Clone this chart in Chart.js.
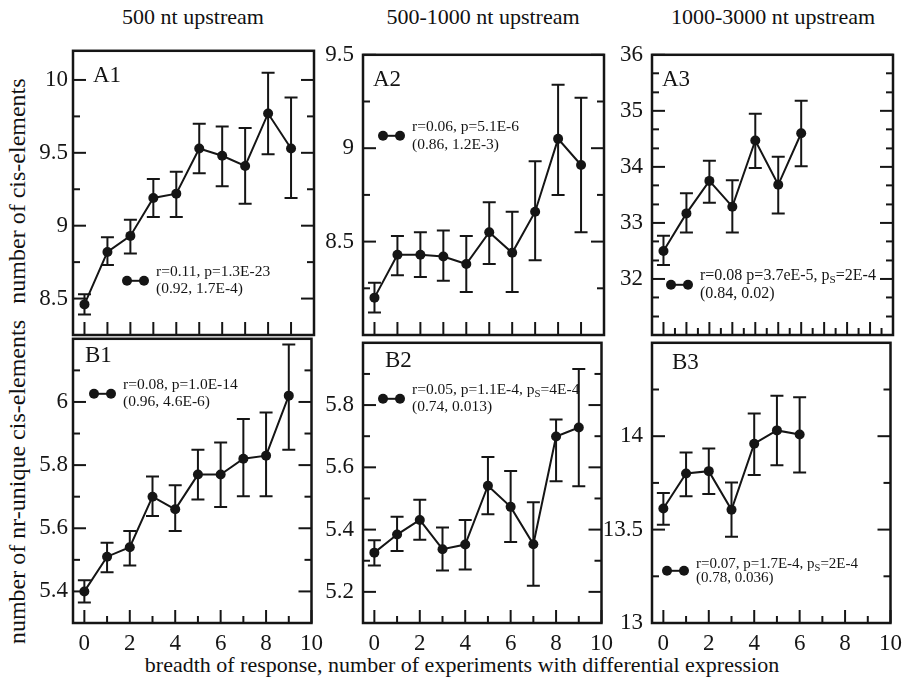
<!DOCTYPE html>
<html>
<head>
<meta charset="utf-8">
<script src="https://cdn.jsdelivr.net/npm/chart.js@4.4.0/dist/chart.umd.min.js"></script>
<style>
  body { margin: 0; background: #fff; }
  #wrap { position: relative; width: 904px; height: 694px; overflow: hidden;
          font-family: "Liberation Serif", "DejaVu Serif", serif; color: #111; }
  canvas { position: absolute; }
  .lbl { position: absolute; white-space: nowrap; font-family: "Liberation Serif", serif;
         font-size: 22px; transform: translate(-50%, -50%); }
  .rot { font-size: 24px; transform: translate(-50%, -50%) rotate(-90deg); }
</style>
</head>
<body>
<div id="wrap">
  <div class="lbl" style="left:193px; top:17px">500 nt upstream</div>
  <div class="lbl" style="left:483px; top:17px">500-1000 nt upstream</div>
  <div class="lbl" style="left:773px; top:17px">1000-3000 nt upstream</div>
  <div class="lbl rot" style="left:17px; top:191px">number of cis-elements</div>
  <div class="lbl rot" style="left:17px; top:482px">number of nr-unique cis-elements</div>
  <div class="lbl" style="left:462px; top:665px">breadth of response, number of experiments with differential expression</div>
</div>
<script>
// x categories (number of experiments)
const xs10 = [0, 1, 2, 3, 4, 5, 6, 7, 8, 9];
const xs7 = [0, 1, 2, 3, 4, 5, 6];

// A: number of cis-elements
const a1Mean = [8.46, 8.82, 8.93, 9.19, 9.22, 9.53, 9.48, 9.41, 9.77, 9.53];
const a1Hi   = [8.53, 8.92, 9.04, 9.32, 9.37, 9.70, 9.68, 9.67, 10.05, 9.88];
const a1Lo   = [8.39, 8.73, 8.81, 9.06, 9.06, 9.36, 9.27, 9.15, 9.49, 9.19];

const a2Mean = [8.20, 8.43, 8.43, 8.42, 8.38, 8.55, 8.44, 8.66, 9.05, 8.91];
const a2Hi   = [8.28, 8.53, 8.55, 8.56, 8.53, 8.71, 8.66, 8.93, 9.34, 9.27];
const a2Lo   = [8.12, 8.32, 8.31, 8.29, 8.23, 8.38, 8.23, 8.40, 8.75, 8.55];

const a3Mean = [32.50, 33.17, 33.75, 33.29, 34.47, 33.68, 34.60];
const a3Hi   = [32.77, 33.53, 34.11, 33.76, 34.95, 34.18, 35.18];
const a3Lo   = [32.25, 32.83, 33.36, 32.83, 33.98, 33.17, 34.01];

// B: number of nr-unique cis-elements
const b1Mean = [5.40, 5.51, 5.54, 5.70, 5.66, 5.77, 5.77, 5.82, 5.83, 6.02];
const b1Hi   = [5.435, 5.554, 5.591, 5.764, 5.736, 5.849, 5.872, 5.946, 5.967, 6.182];
const b1Lo   = [5.365, 5.461, 5.482, 5.639, 5.591, 5.691, 5.667, 5.701, 5.701, 5.849];

const b2Mean = [5.326, 5.384, 5.431, 5.337, 5.352, 5.541, 5.473, 5.353, 5.699, 5.728];
const b2Hi   = [5.366, 5.441, 5.496, 5.407, 5.431, 5.633, 5.588, 5.488, 5.754, 5.916];
const b2Lo   = [5.285, 5.331, 5.367, 5.269, 5.272, 5.449, 5.360, 5.220, 5.555, 5.539];

const b3Mean = [13.613, 13.80, 13.813, 13.606, 13.96, 14.031, 14.009];
const b3Hi   = [13.696, 13.913, 13.934, 13.752, 14.122, 14.217, 14.208];
const b3Lo   = [13.526, 13.679, 13.691, 13.462, 13.792, 13.844, 13.806];

// tick labels
const xLabelTicks = [0, 2, 4, 6, 8, 10];
const xOddTicks = [1, 3, 5, 7, 9];
const xIntTicks = [0, 1, 2, 3, 4, 5, 6, 7, 8, 9];
const xHalfTicks = [0.5, 1.5, 2.5, 3.5, 4.5, 5.5, 6.5, 7.5, 8.5, 9.5];

const a1YTicks = [8.5, 9, 9.5, 10];
const a1YMinor = [8.75, 9.25, 9.75];
const a2YTicks = [8.5, 9, 9.5];
const a2YMinor = [8.25, 8.75, 9.25];
const a3YTicks = [32, 33, 34, 35, 36];
const a3YMinor = [31.33, 31.67, 32.33, 32.67, 33.33, 33.67, 34.33, 34.67, 35.33, 35.67];
const b1YTicks = [5.4, 5.6, 5.8, 6];
const b1YMinor = [5.5, 5.7, 5.9, 6.1];
const b2YTicks = [5.2, 5.4, 5.6, 5.8];
const b2YMinor = [5.3, 5.5, 5.7, 5.9];
const b3YTicks = [13, 13.5, 14];
const b3YMinor = [13.25, 13.75, 14.25];

const FONT = '"Liberation Serif", "DejaVu Serif", serif';
const INK = '#151515';

const panels = [
  { name: 'A1', left: 73, top: 46.5, row: 'A', xs: xs10, mean: a1Mean, hi: a1Hi, lo: a1Lo,
    yMin: 8.25, yMax: 10.2, yTicks: a1YTicks, yMinor: a1YMinor, pad: 5, half: false,
    tag: [20, 25], leg: [54, 230, 15.5, 17], text: ['r=0.11, p=1.3E-23', '(0.92, 1.7E-4)'] },
  { name: 'A2', left: 362.5, top: 46.5, row: 'A', xs: xs10, mean: a2Mean, hi: a2Hi, lo: a2Lo,
    yMin: 8.0, yMax: 9.5, yTicks: a2YTicks, yMinor: a2YMinor, pad: 9, half: false,
    tag: [10, 25], leg: [20, 81, 15.5, 18], text: ['r=0.06, p=5.1E-6', '(0.86, 1.2E-3)'] },
  { name: 'A3', left: 652, top: 46.5, row: 'A', xs: xs7, mean: a3Mean, hi: a3Hi, lo: a3Lo,
    yMin: 31, yMax: 36, yTicks: a3YTicks, yMinor: a3YMinor, pad: 9, half: true,
    tag: [10, 25], leg: [19, 230, 16, 18], text: ['r=0.08 p=3.7eE-5, p_S=2E-4', '(0.84, 0.02)'] },
  { name: 'B1', left: 73, top: 335, row: 'B', xs: xs10, mean: b1Mean, hi: b1Hi, lo: b1Lo,
    yMin: 5.3, yMax: 6.2, yTicks: b1YTicks, yMinor: b1YMinor, pad: 5, half: false,
    tag: [12, 17], leg: [21, 55, 15.5, 17], text: ['r=0.08, p=1.0E-14', '(0.96, 4.6E-6)'] },
  { name: 'B2', left: 362.5, top: 335, row: 'B', xs: xs10, mean: b2Mean, hi: b2Hi, lo: b2Lo,
    yMin: 5.1, yMax: 6.0, yTicks: b2YTicks, yMinor: b2YMinor, pad: 9, half: false,
    tag: [22, 18], leg: [20, 56, 15.5, 17], text: ['r=0.05, p=1.1E-4, p_S=4E-4', '(0.74, 0.013)'] },
  { name: 'B3', left: 652, top: 335, row: 'B', xs: xs7, mean: b3Mean, hi: b3Hi, lo: b3Lo,
    yMin: 13, yMax: 14.5, yTicks: b3YTicks, yMinor: b3YMinor, pad: 9, half: true,
    tag: [20, 20], leg: [15, 228, 15, 14], text: ['r=0.07, p=1.7E-4, p_S=2E-4', '(0.78, 0.036)'] }
];

const PW = 241, PH = 288, LM = 65, TM = 15, RM = 16, BM = 45;

// draws text with "_S" as subscript
function richText(ctx, str, x, y, size) {
  const parts = str.split(/_(\w)/);
  let cx = x;
  parts.forEach((t, i) => {
    if (i % 2 === 1) {
      ctx.font = (size * 0.7) + 'px ' + FONT;
      ctx.fillText(t, cx, y + size * 0.28);
    } else {
      ctx.font = size + 'px ' + FONT;
      ctx.fillText(t, cx, y);
    }
    cx += ctx.measureText(t).width;
  });
}

const decor = {
  id: 'decor',
  beforeDatasetsDraw(chart, args, p) {
    const ctx = chart.ctx, xs = chart.scales.x, ys = chart.scales.y;
    ctx.save();
    ctx.strokeStyle = INK;
    ctx.lineWidth = 2;
    p.xs.forEach((x, i) => {
      const px = xs.getPixelForValue(x);
      const yh = ys.getPixelForValue(p.hi[i]), yl = ys.getPixelForValue(p.lo[i]);
      ctx.beginPath();
      ctx.moveTo(px, yh); ctx.lineTo(px, yl);
      ctx.moveTo(px - 6.5, yh); ctx.lineTo(px + 6.5, yh);
      ctx.moveTo(px - 6.5, yl); ctx.lineTo(px + 6.5, yl);
      ctx.stroke();
    });
    ctx.restore();
  },
  afterDraw(chart, args, p) {
    const ctx = chart.ctx, a = chart.chartArea, xs = chart.scales.x, ys = chart.scales.y;
    ctx.save();
    ctx.strokeStyle = INK;
    ctx.fillStyle = INK;
    ctx.lineWidth = 2;
    const tick = (x1, y1, x2, y2) => { ctx.beginPath(); ctx.moveTo(x1, y1); ctx.lineTo(x2, y2); ctx.stroke(); };
    // y ticks on both sides, pointing in
    const yt = (vals, len) => vals.forEach(v => {
      const py = ys.getPixelForValue(v);
      tick(a.left, py, a.left + len, py);
      tick(a.right, py, a.right - len, py);
    });
    yt(p.yTicks, 13);
    yt(p.yMinor, 7);
    // x ticks on bottom, pointing up
    const xt = (vals, len) => vals.forEach(v => {
      const px = xs.getPixelForValue(v);
      tick(px, a.bottom, px, a.bottom - len);
    });
    if (p.row === 'A') {
      xt(xIntTicks, 13);
      if (p.half) xt(xHalfTicks, 7);
    } else {
      xt(xLabelTicks, 13);
      xt(xOddTicks, 7);
    }
    // frame
    ctx.lineWidth = 2.5;
    ctx.strokeRect(a.left, a.top, a.right - a.left, a.bottom - a.top);
    // panel tag
    ctx.textBaseline = 'middle';
    ctx.font = '23px ' + FONT;
    ctx.fillText(p.name, a.left + p.tag[0], a.top + p.tag[1]);
    // legend
    const [lx, ly, fs, gap] = p.leg;
    const x0 = a.left + lx, y0 = a.top + ly;
    ctx.lineWidth = 2;
    tick(x0, y0, x0 + 17, y0);
    [x0, x0 + 17].forEach(cx => { ctx.beginPath(); ctx.arc(cx, y0, 5, 0, Math.PI * 2); ctx.fill(); });
    richText(ctx, p.text[0], x0 + 29, y0 - gap / 2, fs);
    richText(ctx, p.text[1], x0 + 29, y0 + gap / 2, fs);
    ctx.restore();
  }
};

const wrap = document.getElementById('wrap');
panels.forEach(p => {
  const cv = document.createElement('canvas');
  cv.width = LM + PW + RM;
  cv.height = TM + PH + BM;
  cv.style.left = (p.left - LM) + 'px';
  cv.style.top = (p.top - TM) + 'px';
  wrap.appendChild(cv);

  new Chart(cv, {
    type: 'line',
    data: {
      datasets: [{
        data: p.xs.map((x, i) => ({ x: x, y: p.mean[i] })),
        borderColor: INK,
        borderWidth: 2,
        pointRadius: 5,
        pointBackgroundColor: INK,
        pointBorderWidth: 0,
        tension: 0
      }]
    },
    options: {
      responsive: false,
      animation: false,
      devicePixelRatio: 1,
      layout: { padding: { top: TM, right: RM, left: 0, bottom: 0 } },
      plugins: { legend: { display: false }, tooltip: { enabled: false }, decor: p },
      scales: {
        x: {
          type: 'linear', min: -0.5, max: 10,
          grid: { display: false, drawTicks: false },
          border: { display: false },
          afterBuildTicks: s => { s.ticks = (p.row === 'B' ? xLabelTicks : []).map(v => ({ value: v })); },
          afterFit: s => { s.height = BM; },
          ticks: { display: p.row === 'B', color: INK, padding: 7, maxRotation: 0, autoSkip: false,
                   font: { family: FONT, size: 23 }, callback: v => String(v) }
        },
        y: {
          type: 'linear', min: p.yMin, max: p.yMax,
          grid: { display: false, drawTicks: false },
          border: { display: false },
          afterBuildTicks: s => { s.ticks = p.yTicks.map(v => ({ value: v })); },
          afterFit: s => { s.width = LM; },
          ticks: { color: INK, padding: p.pad, autoSkip: false,
                   font: { family: FONT, size: 23 }, callback: v => String(v) }
        }
      }
    },
    plugins: [decor]
  });
});
</script>
</body>
</html>
